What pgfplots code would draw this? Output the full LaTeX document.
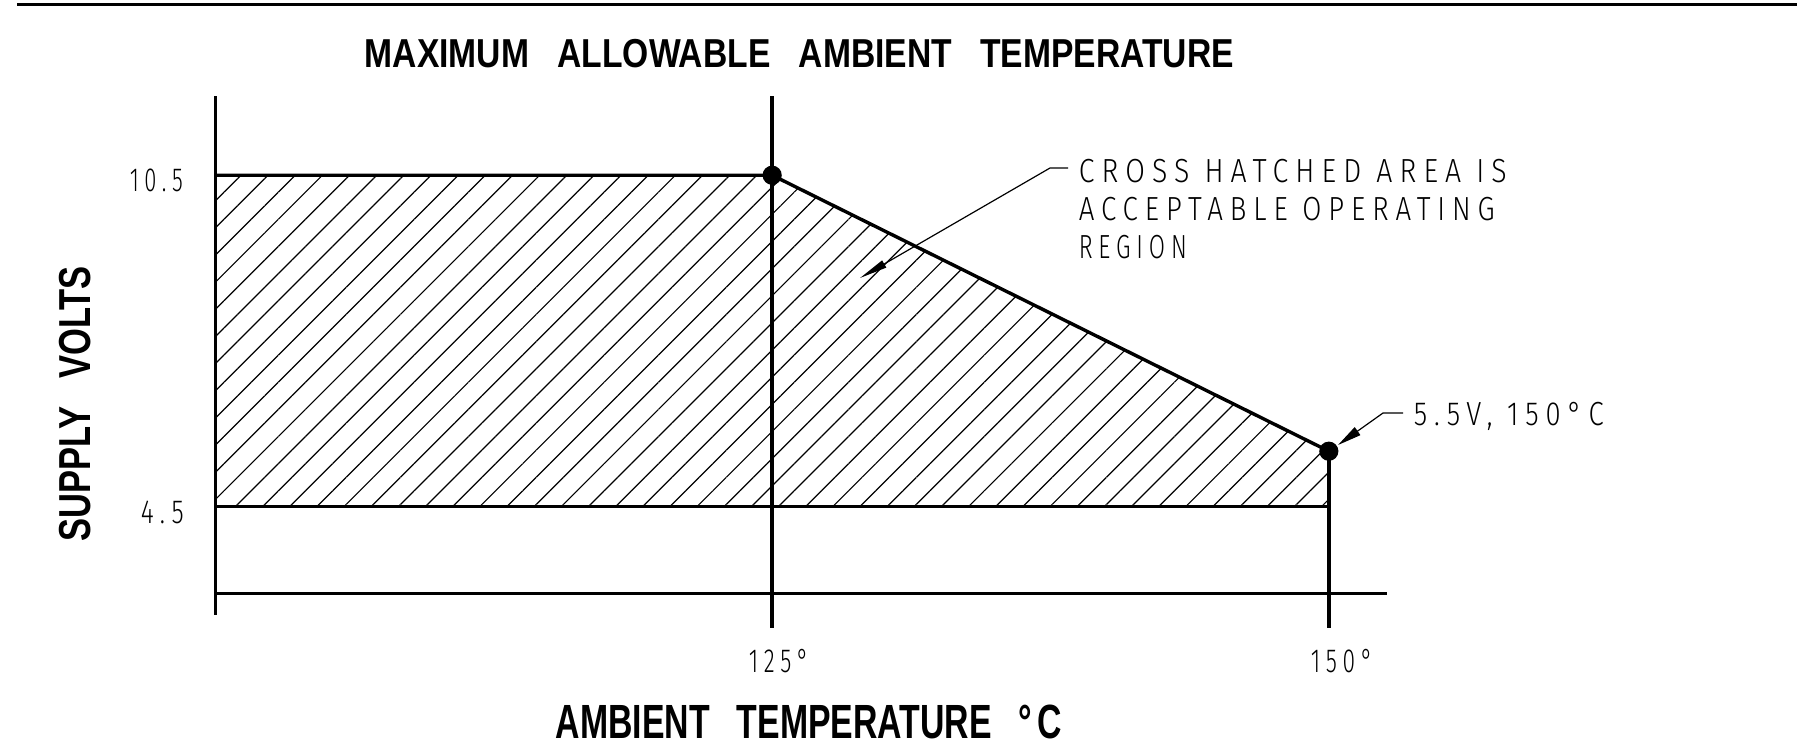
\documentclass[border=0pt]{standalone}
\usepackage{pgfplots}
\pgfplotsset{compat=1.18}
\usepackage{fontspec}
\usepackage{graphicx}
\usetikzlibrary{patterns.meta,arrows.meta}
\setmainfont{Liberation Sans}
\newfontfamily\thin{Fira Sans Light}[LetterSpace=25]
% thin CAD-like text with a fixed width (height kept)
\newcommand\T[2]{\resizebox{#1}{\height}{\fontsize{8.35pt}{10pt}\thin #2}}
\begin{document}
\begin{tikzpicture}
\begin{axis}[
  at={(53.875pt,37.1pt)}, anchor=south west,
  scale only axis, width=292.8pt, height=124.325pt,
  xmin=100, xmax=152.6, ymin=2.92, ymax=11.93,
  hide axis, clip=false]
% hatched acceptable region
\addplot[draw=none, pattern={Lines[angle=45,distance=4.8pt,line width=0.3pt]}, pattern color=black]
  coordinates {(100,4.5) (100,10.5) (125,10.5) (150,5.5) (150,4.5)} -- cycle;
% frame lines
\addplot[black, line width=0.85pt] coordinates {(100,11.93) (100,2.53)};
\addplot[black, line width=0.85pt] coordinates {(125,11.93) (125,2.30)};
\addplot[black, line width=0.85pt] coordinates {(150,5.5) (150,2.30)};
\addplot[black, line width=0.85pt] coordinates {(100,2.92) (152.6,2.92)};
\addplot[black, line width=0.85pt] coordinates {(100,4.5) (150,4.5)};
\addplot[black, line width=0.85pt, line join=round] coordinates {(100,10.5) (125,10.5) (150,5.5)};
% corner points
\addplot[only marks, mark=*, mark size=2.2pt, black] coordinates {(125,10.5) (150,5.5)};
\end{axis}
\begin{scope}[shift={(0pt,185.5pt)}, x=0.25pt, y=-0.25pt]
% top rule
\draw[line width=0.9pt] (17,4.3) -- (1797,4.3);
% title and axis labels
\node[anchor=base west, inner sep=0] at (364,67)
  {\resizebox{217.25pt}{\height}{\fontsize{10.1pt}{12pt}\bfseries MAXIMUM\hspace{0.84em}ALLOWABLE\hspace{0.84em}AMBIENT\hspace{0.84em}TEMPERATURE}};
\node[anchor=base west, inner sep=0] at (555,738.5)
  {\resizebox{126.5pt}{\height}{\fontsize{12pt}{14pt}\bfseries AMBIENT\hspace{0.8em}TEMPERATURE\hspace{0.8em}°\hspace{0.15em}C}};
\node[rotate=90, anchor=base west, inner sep=0] at (90,542)
  {\resizebox{68.75pt}{\height}{\fontsize{11.2pt}{13pt}\bfseries SUPPLY\hspace{0.8em}VOLTS}};
% tick labels
\node[anchor=base west, inner sep=0] at (129,191.5) {\T{13.25pt}{10.5}};
\node[anchor=base west, inner sep=0] at (140,523) {\T{10.75pt}{4.5}};
\node[anchor=base west, inner sep=0] at (748,672) {\T{15pt}{125°}};
\node[anchor=base west, inner sep=0] at (1310,672) {\T{15.5pt}{150°}};
% annotations
\node[anchor=base west, inner sep=0] at (1078,182) {\T{107pt}{CROSS HATCHED AREA IS}};
\node[anchor=base west, inner sep=0] at (1078,220) {\T{104pt}{ACCEPTABLE OPERATING}};
\node[anchor=base west, inner sep=0] at (1078,258) {\T{27pt}{REGION}};
\node[anchor=base west, inner sep=0] at (1413,425) {\T{47.5pt}{5.5V, 150°C}};
\draw[line width=0.3pt, -{Triangle[length=7pt,width=2pt]}] (1068,168) -- (1050,168) -- (860,278);
\draw[line width=0.3pt, -{Triangle[length=6pt,width=2.4pt]}] (1403,413) -- (1383,413) -- (1338,445);
\end{scope}
\pgfresetboundingbox
\path[use as bounding box] (0,0) rectangle (449.25pt,185.5pt);
\end{tikzpicture}
\end{document}
